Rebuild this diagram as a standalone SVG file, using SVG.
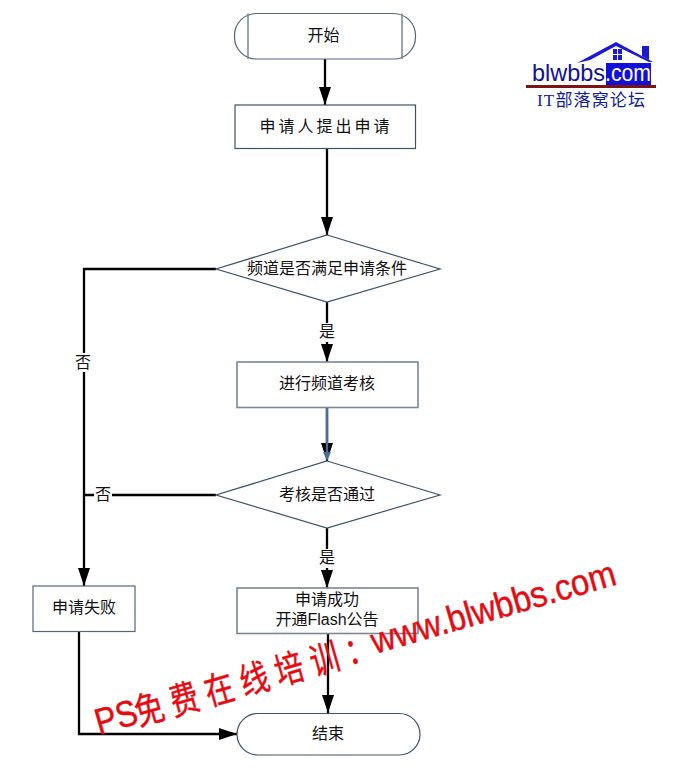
<svg xmlns="http://www.w3.org/2000/svg" width="695" height="777" viewBox="0 0 695 777">
<style>
.n{fill:#fff;stroke:#3f5368;stroke-width:1.2}
.g{fill:#fff;stroke:#7a8794;stroke-width:1.6}
.t{font-family:"Noto Sans CJK SC","Liberation Sans",sans-serif;font-size:16px;fill:#111;text-anchor:middle}
.c{fill:none;stroke:#000;stroke-width:2.300}
.wm{font-family:"Liberation Sans","Noto Sans CJK SC",sans-serif;fill:#e60b12;stroke:#e60b12;stroke-width:.4}
</style>
<defs>
<marker id="a" markerUnits="userSpaceOnUse" markerWidth="18" markerHeight="12" refX="18" refY="6" viewBox="0 0 18 12" orient="auto"><path d="M0 0L18 6L0 12Z" fill="#000"/></marker>
</defs>
<rect width="695" height="777" fill="#fff"/>
<g id="connectors">
<path class="c" d="M325 59V105" marker-end="url(#a)"/>
<path class="c" d="M327 148V235" marker-end="url(#a)"/>
<path class="c" d="M216 269H84V586" marker-end="url(#a)"/>
<path class="c" d="M327 302V362" marker-end="url(#a)"/>
<path class="c" d="M327 407V461" marker-end="url(#a)"/>
<path d="M327 407V452" fill="none" stroke="#4a6a9c" stroke-width="2.400"/>
<path d="M323 452L327 461L331 452Z" fill="#4a6a9c"/>
<path class="c" d="M216 495H84"/>
<path class="c" d="M327 528V588" marker-end="url(#a)"/>
<path class="c" d="M79 631V734H237" marker-end="url(#a)"/>
<path class="c" d="M328 633V713" marker-end="url(#a)"/>
</g>
<g id="start">
<rect class="n" x="234.500" y="13.500" width="181" height="45.500" rx="22" style="stroke:#56677a"/>
<path d="M248 13.500V59M402 13.500V59" stroke="#7a8794" stroke-width="1.500"/>
<text class="t" x="323.500" y="41">开始</text>
</g>
<g id="apply">
<rect class="n" x="235" y="105" width="180.500" height="43.500"/>
<text class="t" x="326" y="132" style="letter-spacing:3px">申请人提出申请</text>
</g>
<g id="check-channel">
<path class="n" d="M327 235L440 269L327 302L216 269Z"/>
<text class="t" x="327" y="274">频道是否满足申请条件</text>
</g>
<g id="review">
<rect class="g" x="237" y="362" width="181" height="45.500"/>
<text class="t" x="327" y="389">进行频道考核</text>
</g>
<g id="check-review">
<path class="n" d="M327 461L440 495L327 528L216 495Z"/>
<text class="t" x="327" y="500">考核是否通过</text>
</g>
<g id="fail">
<rect class="n" x="33" y="586" width="102" height="45.500" style="stroke:#56677a"/>
<text class="t" x="84" y="613">申请失败</text>
</g>
<g id="success">
<rect class="g" x="237" y="588" width="181" height="45.500"/>
<text class="t" y="605" style="font-family:'Liberation Sans','Noto Sans CJK SC',sans-serif"><tspan x="327">申请成功</tspan><tspan x="327" dy="20">开通Flash公告</tspan></text>
</g>
<g id="end">
<rect class="n" x="237" y="713.500" width="183" height="41.500" rx="20.700"/>
<text class="t" x="328" y="739">结束</text>
</g>
<g id="labels">
<rect x="74" y="353" width="20" height="19" fill="#fff"/>
<text class="t" x="83" y="368">否</text>
<rect x="94" y="486" width="18" height="19" fill="#fff"/>
<text class="t" x="103" y="500">否</text>
<rect x="317" y="323" width="20" height="19" fill="#fff"/>
<text class="t" x="327" y="337">是</text>
<rect x="317" y="549" width="20" height="19" fill="#fff"/>
<text class="t" x="327" y="563">是</text>
</g>
<g id="logo">
<path d="M577 63L616 42L653 62L649 62L616 46L590 60Z" fill="#1a1ad6"/>
<path d="M642 46H649V60L642 56Z" fill="#1a1ad6"/>
<path d="M613 49H622V60H613Z" fill="#1a1ad6"/>
<path d="M617.500 49V60M613 54.500H622" stroke="#fff" stroke-width="1"/>
<rect x="606" y="63" width="45" height="22" fill="#1010d8"/>
<text x="532" y="81" font-family="Liberation Sans,sans-serif" font-size="24" fill="#10109c" textLength="73" lengthAdjust="spacingAndGlyphs">blwbbs</text>
<text x="605" y="81" font-family="Liberation Sans,sans-serif" font-size="24" fill="#fff" textLength="46" lengthAdjust="spacingAndGlyphs">.com</text>
<rect x="526" y="85" width="130" height="3" fill="#7c1416"/>
<text x="537" y="106" font-family="Liberation Serif,Noto Sans CJK SC,serif" font-size="17" fill="#10209c" textLength="108">IT部落窝论坛</text>
</g>
<g id="watermark" class="wm">
<text transform="translate(99 735) rotate(-16) scale(1 1.150)" font-size="32">PS</text>
<text transform="translate(139 726) rotate(-16) scale(.9 1.150)" font-size="32" letter-spacing="8.500" style="font-family:'Noto Sans CJK SC',sans-serif">免费在线培训：</text>
<text transform="translate(375 654) rotate(-16) scale(1 1.100)" font-size="33">www.blwbbs.com</text>
</g>
</svg>
